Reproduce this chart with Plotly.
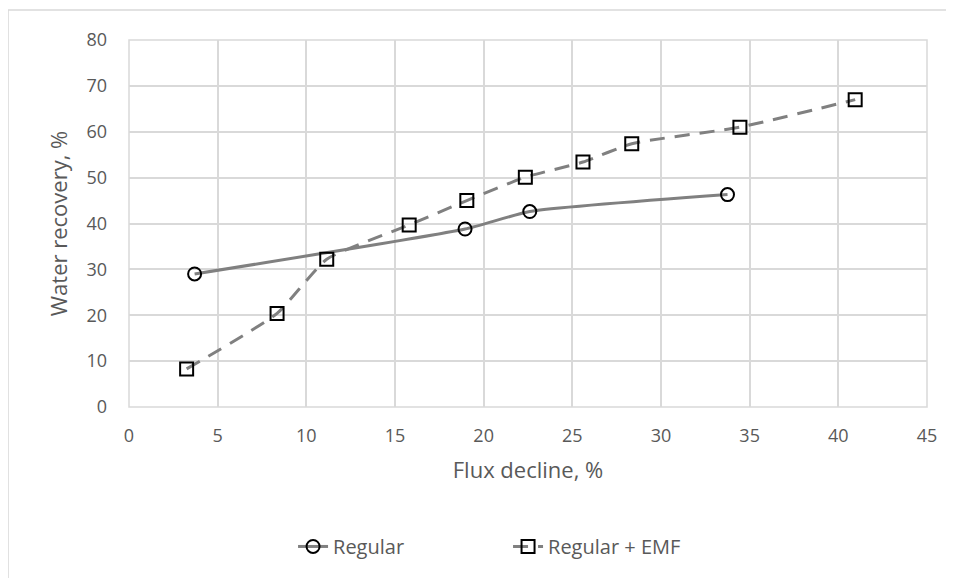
import plotly.graph_objects as go

regular_x = [3.7, 18.95, 22.6, 33.75]
regular_y = [29.0, 38.8, 42.6, 46.3]

emf_x = [3.25, 8.35, 11.15, 15.8, 19.05, 22.35, 25.6, 28.35, 34.45, 40.95]
emf_y = [8.3, 20.4, 32.2, 39.7, 45.0, 50.1, 53.4, 57.4, 61.0, 67.0]

x_ticks = [0, 5, 10, 15, 20, 25, 30, 35, 40, 45]
y_ticks = [0, 10, 20, 30, 40, 50, 60, 70, 80]

FONT = "Open Sans"
TXT = "#595959"
GRID = "#d9d9d9"
LINE = "#808080"

fig = go.Figure()
fig.add_trace(go.Scatter(
    x=regular_x, y=regular_y, name="Regular", mode="lines+markers",
    line=dict(color=LINE, width=3, shape="spline", smoothing=0.5),
    marker=dict(symbol="circle", size=13, color="rgba(255,255,255,0)",
                line=dict(color="black", width=2)),
))
fig.add_trace(go.Scatter(
    x=emf_x, y=emf_y, name="Regular + EMF", mode="lines+markers",
    line=dict(color=LINE, width=3, dash="15px,10px", shape="spline", smoothing=0.5),
    marker=dict(symbol="square", size=13, color="rgba(255,255,255,0)",
                line=dict(color="black", width=2)),
))

# page body has an 8px margin, so the figure starts at (8, 8)
fig.update_layout(
    width=946, height=570,
    margin=dict(l=121, r=27, t=32, b=171),
    paper_bgcolor="white", plot_bgcolor="white",
    font=dict(family=FONT, size=19, color=TXT),
    showlegend=True,
    legend=dict(orientation="h", x=0.475, xanchor="center", y=-0.38, yanchor="middle",
                entrywidth=170, font=dict(family=FONT, size=20, color=TXT)),
    xaxis=dict(range=[0, 45], tickvals=x_ticks, showgrid=True, gridcolor=GRID, gridwidth=1.5,
               zeroline=False, showline=False, ticks="", ticklabelstandoff=16,
               title=dict(text="Flux decline, %", font=dict(family=FONT, size=22, color=TXT), standoff=16),
               tickfont=dict(family=FONT, size=18, color=TXT)),
    yaxis=dict(range=[0, 80], tickvals=y_ticks, showgrid=True, gridcolor=GRID, gridwidth=1.5,
               zeroline=False, showline=False, ticks="", ticklabelstandoff=21,
               title=dict(text="Water recovery, %", font=dict(family=FONT, size=22, color=TXT), standoff=12),
               tickfont=dict(family=FONT, size=18, color=TXT)),
    shapes=[
        dict(type="rect", xref="paper", yref="paper", x0=0, x1=1, y0=0, y1=1,
             line=dict(color=GRID, width=1.5), layer="below"),
        dict(type="rect", xref="paper", yref="paper", x0=-0.1516, x1=1.2, y0=-0.7, y1=1.082,
             line=dict(color=GRID, width=1.5), layer="below"),
    ],
)

fig.write_html("out.html")
